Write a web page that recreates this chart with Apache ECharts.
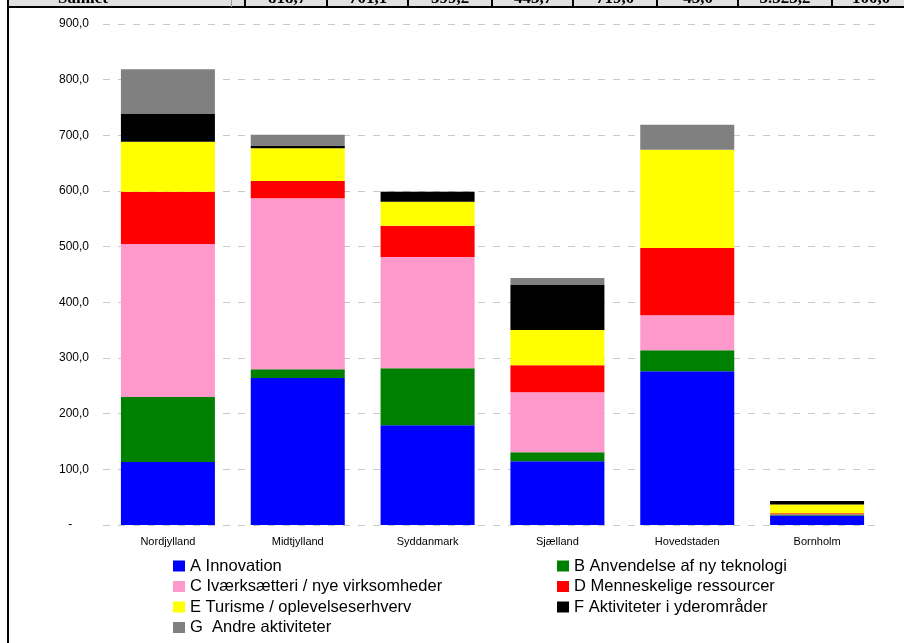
<!DOCTYPE html>
<html>
<head>
<meta charset="utf-8">
<script src="https://cdn.jsdelivr.net/npm/echarts@6/dist/echarts.min.js"></script>
<style>
  html, body { margin: 0; padding: 0; background: #fff; }
  #chart { width: 904px; height: 643px; }
</style>
</head>
<body>
<div id="chart"></div>
<script>
const regions = ['Nordjylland', 'Midtjylland', 'Syddanmark', 'Sjælland', 'Hovedstaden', 'Bornholm'];

// values per category, in million kr
const aInnovation   = [113.0, 264.0, 179.0, 114.6, 276.0, 17.0];
const bTeknologi    = [117.0, 16.0, 102.5, 16.0, 38.0, 2.0];
const cIvaerks      = [275.0, 307.0, 200.0, 108.0, 63.0, 0.5];
const dMennesker    = [93.5, 31.0, 56.0, 48.5, 120.5, 1.5];
const eTurisme      = [90.0, 59.0, 43.0, 63.0, 176.5, 16.0];
const fYderomraader = [50.0, 4.0, 18.0, 81.0, 0.0, 6.0];
const gAndre        = [80.2, 20.1, 0.7, 12.5, 45.0, 0.0];

const seriesNames = [
  'A Innovation',
  'B Anvendelse af ny teknologi',
  'C Iværksætteri / nye virksomheder',
  'D Menneskelige ressourcer',
  'E Turisme / oplevelseserhverv',
  'F Aktiviteter i yderområder',
  'G  Andre aktiviteter'
];
const seriesColors = ['#0000FF', '#008000', '#FF99CC', '#FF0000', '#FFFF00', '#000000', '#808080'];
const seriesData = [aInnovation, bTeknologi, cIvaerks, dMennesker, eTurisme, fYderomraader, gAndre];

// the cut-off table row above the chart
const samletRow = ['818,7', '701,1', '599,2', '443,7', '719,0', '43,0', '3.323,2', '100,0'];
const samletX = [287, 368, 450, 533, 615, 698, 785, 871];
const cellLines = [245, 327, 408, 492, 573, 657, 738, 832];

const chart = echarts.init(document.getElementById('chart'));

const graphics = [
  { type: 'rect', shape: { x: 8, y: 0, width: 896, height: 7 }, style: { fill: '#e0e0e0' } },
  { type: 'rect', shape: { x: 8, y: 6, width: 896, height: 2 }, style: { fill: '#000' } },
  { type: 'rect', shape: { x: 7, y: 0, width: 2, height: 643 }, style: { fill: '#000' } },
  { type: 'rect', shape: { x: 231, y: 0, width: 1, height: 7 }, style: { fill: '#9a9a9a' } },
  { type: 'text', style: { x: 83, y: -1, text: 'Samlet', font: 'bold 17px "Liberation Serif"', fill: '#000', align: 'center', verticalAlign: 'middle' } }
];
cellLines.forEach(x => {
  graphics.push({ type: 'rect', shape: { x: x - 1, y: 0, width: 2, height: 7 }, style: { fill: '#000' } });
});
samletRow.forEach((t, i) => {
  graphics.push({ type: 'text', style: { x: samletX[i], y: -1, text: t, font: 'bold 17px "Liberation Serif"', fill: '#000', align: 'center', verticalAlign: 'middle' } });
});

const legendText = { fontFamily: 'Liberation Sans', fontSize: 16.5, color: '#000', lineHeight: 20 };

const option = {
  backgroundColor: '#fff',
  animation: false,
  color: seriesColors,
  graphic: graphics,
  grid: { left: 103, right: 22, top: 24, bottom: 118 },
  legend: [
    {
      data: [seriesNames[0], seriesNames[2], seriesNames[4], seriesNames[6]],
      orient: 'vertical', left: 173, top: 556, padding: 0,
      itemWidth: 12, itemHeight: 11, itemGap: 0.5, icon: 'rect',
      selectedMode: false, textStyle: legendText
    },
    {
      data: [seriesNames[1], seriesNames[3], seriesNames[5]],
      orient: 'vertical', left: 557, top: 556, padding: 0,
      itemWidth: 12, itemHeight: 11, itemGap: 0.5, icon: 'rect',
      selectedMode: false, textStyle: legendText
    }
  ],
  xAxis: {
    type: 'category',
    data: regions,
    axisLine: { show: false },
    axisTick: { show: false },
    axisLabel: { color: '#000', fontFamily: 'Liberation Sans', fontSize: 11, margin: 11 }
  },
  yAxis: {
    type: 'value',
    min: 0,
    max: 900,
    interval: 100,
    axisLine: { show: false },
    axisTick: { show: false },
    axisLabel: {
      color: '#000', fontFamily: 'Liberation Sans', fontSize: 12, margin: 14,
      formatter: v => v === 0 ? '-     ' : v.toFixed(1).replace('.', ',')
    },
    splitLine: { lineStyle: { color: '#c8c8c8', type: [7, 8], width: 1 } }
  },
  series: seriesData.map((d, i) => ({
    name: seriesNames[i],
    type: 'bar',
    stack: 'total',
    barWidth: 94,
    data: d
  }))
};

chart.setOption(option);
</script>
</body>
</html>
